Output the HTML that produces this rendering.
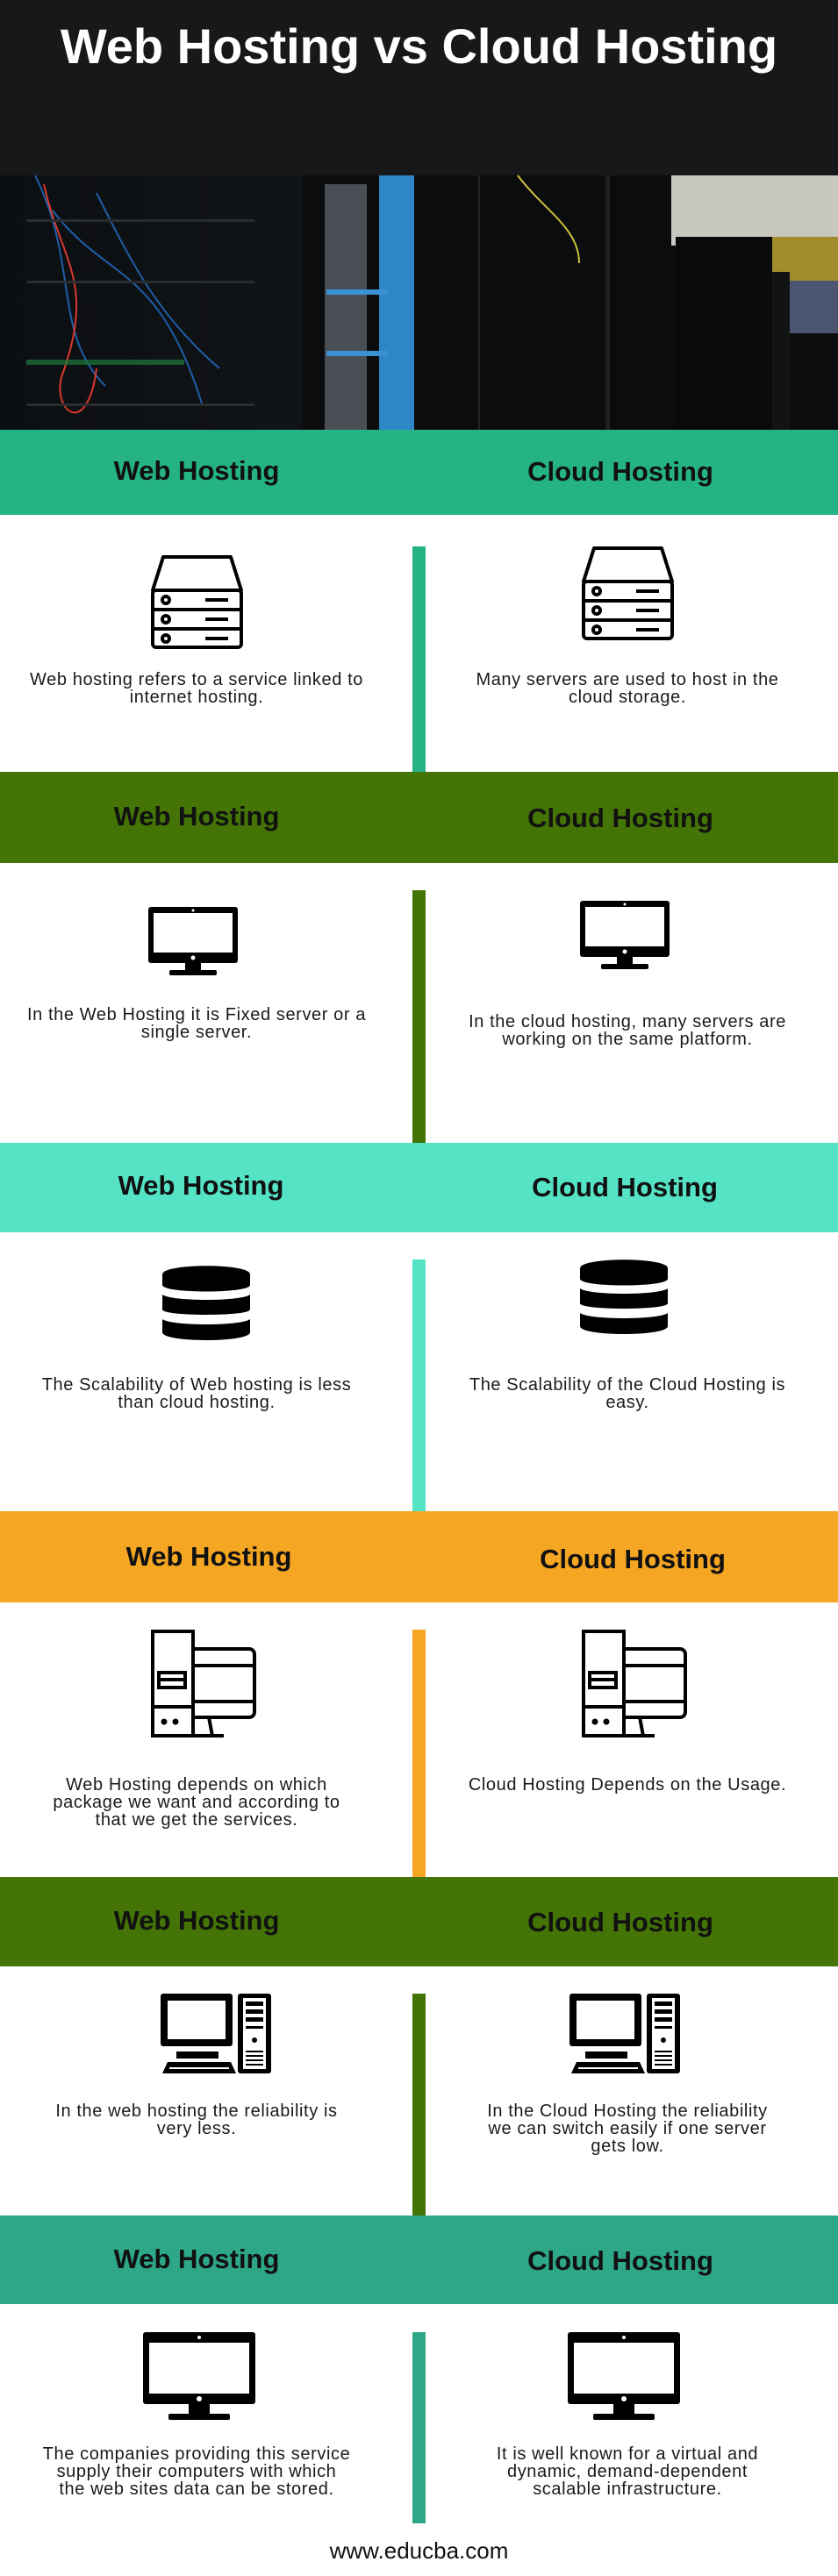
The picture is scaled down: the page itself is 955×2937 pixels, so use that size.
<!DOCTYPE html>
<html><head><meta charset="utf-8"><style>
*{margin:0;padding:0;box-sizing:border-box}
body{width:955px;height:2937px;position:relative;background:#fff;font-family:"Liberation Sans",sans-serif;overflow:hidden}
.a{position:absolute}
.band{position:absolute;left:0;width:955px}
.h{position:absolute;font-weight:bold;font-size:31px;color:#111;width:320px;text-align:center;line-height:36px}
.bar{position:absolute;left:470px;width:15px}
.t{position:absolute;width:450px;text-align:center;font-size:20px;line-height:20px;letter-spacing:0.6px;color:#1a1a1a}
.L{left:-1px}.R{left:490px}
</style></head><body>
<!-- header photo -->
<div class="a" style="left:0;top:0;width:955px;height:490px;background:linear-gradient(90deg,#0c0f12 0%,#111417 35%,#0a0b0c 45%,#0d0e10 60%,#101214 100%)"></div>
<svg class="a" style="left:0;top:0" width="955" height="490">
<rect x="0" y="0" width="955" height="200" fill="#16181a"/>
<rect x="345" y="200" width="610" height="290" fill="#0b0c0d"/>
<rect x="370" y="210" width="48" height="280" fill="#5a6068" opacity="0.8"/>
<rect x="432" y="200" width="40" height="290" fill="#2f86c6"/>
<rect x="372" y="330" width="70" height="6" fill="#3a92d4"/>
<rect x="372" y="400" width="70" height="6" fill="#3a92d4"/>
<rect x="545" y="200" width="2" height="290" fill="#222"/>
<rect x="690" y="200" width="5" height="290" fill="#1e2024"/>
<rect x="765" y="200" width="190" height="80" fill="#c8c8c0"/>
<rect x="880" y="270" width="75" height="60" fill="#a08c2a"/>
<rect x="900" y="320" width="55" height="60" fill="#4c5570"/>
<rect x="770" y="270" width="110" height="220" fill="#0a0a0b"/>
<rect x="880" y="310" width="20" height="180" fill="#121314"/>
<path d="M40 200 C90 300 60 380 120 440 M110 220 C150 300 180 360 250 420 M60 240 C120 320 180 300 230 460" stroke="#1f5ea8" stroke-width="2" fill="none"/>
<path d="M50 210 C70 300 110 320 70 430 C60 470 100 500 110 420" stroke="#d8392b" stroke-width="2" fill="none"/>
<path d="M590 200 C620 240 660 260 660 300" stroke="#c9c23a" stroke-width="2" fill="none"/>
<rect x="30" y="410" width="180" height="6" fill="#1c7a3a" opacity="0.7"/>
<rect x="30" y="250" width="260" height="3" fill="#2a2d30"/>
<rect x="30" y="320" width="260" height="3" fill="#2a2d30"/>
<rect x="30" y="460" width="260" height="3" fill="#2a2d30"/>
</svg>
<div class="a" style="left:0;top:18px;width:955px;text-align:center;color:#fff;font-weight:bold;font-size:56px;line-height:70px">Web Hosting vs Cloud Hosting</div>

<!-- bands -->
<div class="band" style="top:490px;height:97px;background:#25b386"></div>
<div class="h" style="left:64px;top:519px">Web Hosting</div><div class="h" style="left:547px;top:520px">Cloud Hosting</div>
<div class="bar" style="top:623px;height:257px;background:#25b386"></div>

<div class="band" style="top:880px;height:104px;background:#437405"></div>
<div class="h" style="left:64px;top:913px">Web Hosting</div><div class="h" style="left:547px;top:915px">Cloud Hosting</div>
<div class="bar" style="top:1015px;height:288px;background:#437405"></div>

<div class="band" style="top:1303px;height:102px;background:#55e3c5"></div>
<div class="h" style="left:69px;top:1334px">Web Hosting</div><div class="h" style="left:552px;top:1336px">Cloud Hosting</div>
<div class="bar" style="top:1436px;height:287px;background:#55e3c5"></div>

<div class="band" style="top:1723px;height:104px;background:#f5a623"></div>
<div class="h" style="left:78px;top:1757px">Web Hosting</div><div class="h" style="left:561px;top:1760px">Cloud Hosting</div>
<div class="bar" style="top:1858px;height:282px;background:#f5a623"></div>

<div class="band" style="top:2140px;height:102px;background:#437405"></div>
<div class="h" style="left:64px;top:2172px">Web Hosting</div><div class="h" style="left:547px;top:2174px">Cloud Hosting</div>
<div class="bar" style="top:2273px;height:253px;background:#437405"></div>

<div class="band" style="top:2526px;height:101px;background:#2ea688"></div>
<div class="h" style="left:64px;top:2558px">Web Hosting</div><div class="h" style="left:547px;top:2560px">Cloud Hosting</div>
<div class="bar" style="top:2659px;height:218px;background:#2ea688"></div>

<!-- icons -->
<svg width="0" height="0" style="position:absolute"><defs>
<g id="srv" fill="none" stroke="#000" stroke-width="4">
<path d="M2 40 L14 2 H91 L103 40 Z" stroke-linejoin="round"/>
<rect x="2" y="40" width="101" height="65" rx="4"/>
<line x1="2" y1="62" x2="103" y2="62"/><line x1="2" y1="84" x2="103" y2="84"/>
<circle cx="17" cy="51" r="4"/><circle cx="17" cy="73" r="4"/><circle cx="17" cy="95" r="4"/>
<line x1="62" y1="51" x2="88" y2="51"/><line x1="62" y1="73" x2="88" y2="73"/><line x1="62" y1="95" x2="88" y2="95"/>
</g>
<g id="mon">
<rect x="0" y="0" width="102" height="64" rx="3" fill="#000"/>
<rect x="6" y="7" width="90" height="45" fill="#fff"/>
<circle cx="51" cy="4" r="1.5" fill="#fff"/><circle cx="51" cy="58" r="2.5" fill="#fff"/>
<rect x="42" y="64" width="18" height="9" fill="#000"/><rect x="24" y="72" width="54" height="6" rx="2" fill="#000"/>
</g>
<g id="db" fill="#000">
<path d="M0 10 C0 -3 100 -3 100 10 V22 C100 32 0 32 0 22 Z"/>
<path d="M0 33 C10 41 90 41 100 33 V50 C100 58 0 58 0 50 Z"/>
<path d="M0 61 C10 69 90 69 100 61 V76 C100 88 0 88 0 76 Z"/>
</g>
<g id="twr" fill="none" stroke="#000" stroke-width="4">
<rect x="2" y="2" width="46" height="119"/>
<path d="M48 22 H112 a6 6 0 0 1 6 6 V94 a6 6 0 0 1 -6 6 H48"/>
<line x1="48" y1="41" x2="118" y2="41"/><line x1="48" y1="82" x2="118" y2="82"/>
<line x1="2" y1="88" x2="48" y2="88"/>
<rect x="9" y="49" width="30" height="17"/><line x1="9" y1="57" x2="39" y2="57"/>
<path d="M66 100 L70 121 M48 121 H83"/>
<circle cx="15" cy="105" r="1.5" fill="#000"/><circle cx="28" cy="105" r="1.5" fill="#000"/>
</g>
<g id="pc" fill="#000">
<rect x="0" y="0" width="82" height="60" rx="3"/><rect x="8" y="8" width="66" height="44" fill="#fff"/>
<rect x="18" y="66" width="48" height="8"/>
<path d="M8 78 H80 L86 91 H2 Z"/><rect x="10" y="84" width="68" height="2" fill="#fff"/>
<rect x="88" y="0" width="38" height="91" rx="3"/><rect x="94" y="5" width="26" height="81" fill="#fff"/>
<rect x="97" y="9" width="20" height="5"/><rect x="97" y="18" width="20" height="5"/><rect x="97" y="27" width="20" height="5"/>
<rect x="97" y="37" width="20" height="3"/><circle cx="107" cy="53" r="3"/>
<rect x="97" y="65" width="20" height="2"/><rect x="97" y="70" width="20" height="2"/><rect x="97" y="75" width="20" height="2"/><rect x="97" y="80" width="20" height="2"/>
</g>
<g id="mon2">
<rect x="0" y="0" width="128" height="82" rx="3" fill="#000"/>
<rect x="7" y="12" width="114" height="58" fill="#fff"/>
<circle cx="64" cy="6" r="2" fill="#fff"/><circle cx="64" cy="76" r="3" fill="#fff"/>
<rect x="52" y="82" width="24" height="12" fill="#000"/><rect x="29" y="93" width="70" height="7" rx="2" fill="#000"/>
</g>
</defs></svg>

<svg class="a" style="left:172px;top:633px" width="106" height="108"><use href="#srv"/></svg>
<svg class="a" style="left:663px;top:623px" width="106" height="108"><use href="#srv"/></svg>
<div class="t L" style="top:765px">Web hosting refers to a service linked to<br>internet hosting.</div>
<div class="t R" style="top:765px">Many servers are used to host in the<br>cloud storage.</div>

<svg class="a" style="left:169px;top:1034px" width="102" height="78"><use href="#mon"/></svg>
<svg class="a" style="left:661px;top:1027px" width="102" height="78"><use href="#mon"/></svg>
<div class="t L" style="top:1147px">In the Web Hosting it is Fixed server or a<br>single server.</div>
<div class="t R" style="top:1155px">In the cloud hosting, many servers are<br>working on the same platform.</div>

<svg class="a" style="left:185px;top:1443px" width="100" height="86"><use href="#db"/></svg>
<svg class="a" style="left:661px;top:1436px" width="100" height="86"><use href="#db"/></svg>
<div class="t L" style="top:1569px">The Scalability of Web hosting is less<br>than cloud hosting.</div>
<div class="t R" style="top:1569px">The Scalability of the Cloud Hosting is<br>easy.</div>

<svg class="a" style="left:172px;top:1858px" width="122" height="124"><use href="#twr"/></svg>
<svg class="a" style="left:663px;top:1858px" width="122" height="124"><use href="#twr"/></svg>
<div class="t L" style="top:2025px">Web Hosting depends on which<br>package we want and according to<br>that we get the services.</div>
<div class="t R" style="top:2025px">Cloud Hosting Depends on the Usage.</div>

<svg class="a" style="left:183px;top:2273px" width="126" height="91"><use href="#pc"/></svg>
<svg class="a" style="left:649px;top:2273px" width="126" height="91"><use href="#pc"/></svg>
<div class="t L" style="top:2397px">In the web hosting the reliability is<br>very less.</div>
<div class="t R" style="top:2397px">In the Cloud Hosting the reliability<br>we can switch easily if one server<br>gets low.</div>

<svg class="a" style="left:163px;top:2659px" width="128" height="100"><use href="#mon2"/></svg>
<svg class="a" style="left:647px;top:2659px" width="128" height="100"><use href="#mon2"/></svg>
<div class="t L" style="top:2788px">The companies providing this service<br>supply their computers with which<br>the web sites data can be stored.</div>
<div class="t R" style="top:2788px">It is well known for a virtual and<br>dynamic, demand-dependent<br>scalable infrastructure.</div>

<div class="a" style="left:0;top:2894px;width:955px;text-align:center;font-size:26px;line-height:28px;color:#111">www.educba.com</div>
</body></html>
